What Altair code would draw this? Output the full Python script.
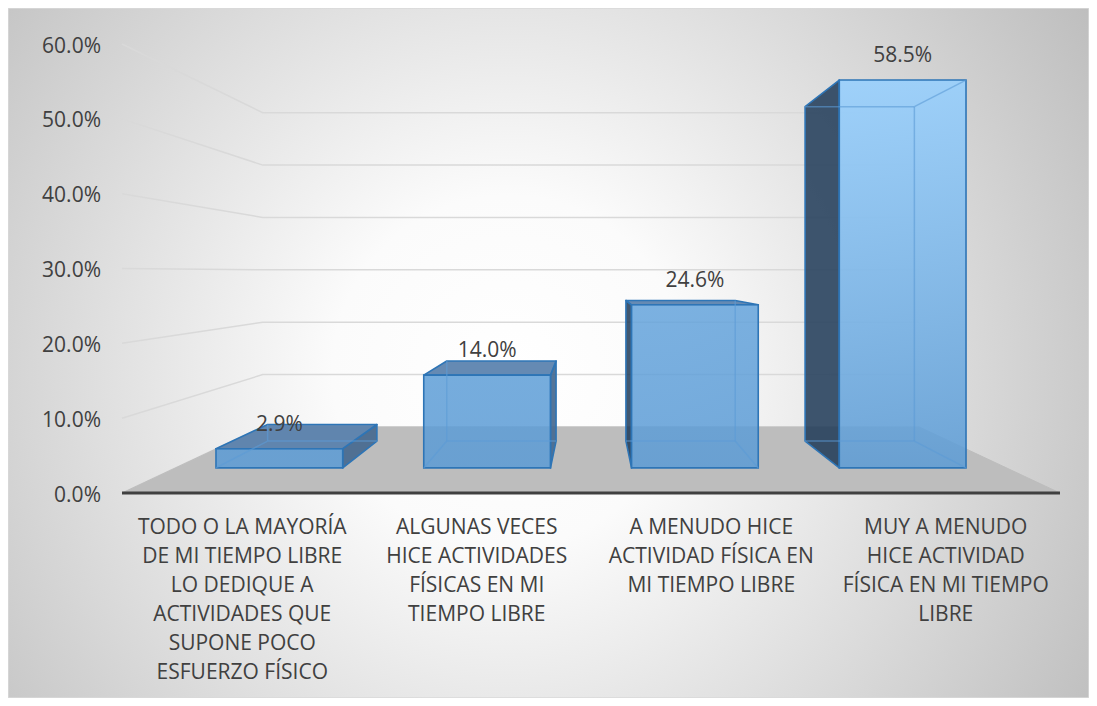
import altair as alt
import pandas as pd

# ---------------- data ----------------
categories = [
    "TODO O LA MAYORÍA\nDE MI TIEMPO LIBRE\nLO DEDIQUE A\nACTIVIDADES QUE\nSUPONE POCO\nESFUERZO FÍSICO",
    "ALGUNAS VECES\nHICE ACTIVIDADES\nFÍSICAS EN MI\nTIEMPO LIBRE",
    "A MENUDO HICE\nACTIVIDAD FÍSICA EN\nMI TIEMPO LIBRE",
    "MUY A MENUDO\nHICE ACTIVIDAD\nFÍSICA EN MI TIEMPO\nLIBRE",
]
values = [2.9, 14.0, 24.6, 58.5]
value_labels = ["2.9%", "14.0%", "24.6%", "58.5%"]
y_ticks = [0, 10, 20, 30, 40, 50, 60]
y_tick_labels = ["0.0%", "10.0%", "20.0%", "30.0%", "40.0%", "50.0%", "60.0%"]

# ---------------- layout / 3-D projection ----------------
W, H = 1081, 690
PX_U = 234.5      # pixels per category band at the front plane
PX_V = 7.483      # pixels per percentage point at the front plane
X0 = 114.0        # pixel of the category axis start
Y0 = 485.0        # pixel of the 0% line
U_MIN = -X0 / PX_U
U_MAX = U_MIN + W / PX_U
V_MAX = Y0 / PX_V
V_MIN = V_MAX - H / PX_V

N = len(values)
VP_U = N / 2.0    # vanishing point (category units)
VP_V = 29.4       # vanishing point (percent units)
S_FRONT = 0.886   # depth scale of the bars' front faces
S_BACK = 0.764    # depth scale of the bars' back faces
S_WALL = 0.70     # depth scale of the back wall
BAR_FRAC = 0.61

FONT = "Open Sans"
TEXT = "#404040"
BLUE = "#5B9BD5"
EDGE = "#2E75B6"
LIGHT = "#94CFFF"


def proj(u, v, s):
    return VP_U + (u - VP_U) * s, VP_V + (v - VP_V) * s


def mix(c1, c2, t):
    a = [int(c1[k:k + 2], 16) for k in (1, 3, 5)]
    b = [int(c2[k:k + 2], 16) for k in (1, 3, 5)]
    return "#" + "".join("%02x" % round(a[j] + (b[j] - a[j]) * t) for j in range(3))


def rows(pid, pts, **extra):
    return [dict(pid=pid, ord=k, x=p[0], y=p[1], **extra) for k, p in enumerate(pts)]


xs = alt.Scale(domain=[U_MIN, U_MAX], nice=False, zero=False)
ys = alt.Scale(domain=[V_MIN, V_MAX], nice=False, zero=False)
X = alt.X("x:Q", scale=xs, axis=None)
Y = alt.Y("y:Q", scale=ys, axis=None)

layers = []

# background
bg_df = pd.DataFrame({"x": [U_MIN], "x2": [U_MAX], "y": [V_MIN], "y2": [V_MAX]})
radial = alt.RadialGradient(
    gradient="radial",
    x1=0.4625, y1=0.5167, r1=0.0,
    x2=0.4625, y2=0.5167, r2=0.65,
    stops=[
        alt.GradientStop(color="#ffffff", offset=0.0),
        alt.GradientStop(color="#fbfbfb", offset=0.25),
        alt.GradientStop(color="#bcbcbc", offset=1.0),
    ],
)
layers.append(
    alt.Chart(bg_df).mark_rect(fill=radial, stroke="#d9d9d9", strokeWidth=1.5)
    .encode(x=alt.X("x:Q", scale=xs, axis=None), x2="x2:Q",
            y=alt.Y("y:Q", scale=ys, axis=None), y2="y2:Q")
)

# gridlines (left wall + back wall)
g = []
for t in y_ticks:
    g += rows("g%d" % t, [proj(0, t, 1.0), proj(0, t, S_WALL), proj(N, t, S_WALL)])
layers.append(
    alt.Chart(pd.DataFrame(g)).mark_line(stroke="#d9d9d9", strokeWidth=1.5)
    .encode(x=X, y=Y, detail="pid:N", order="ord:Q")
)

# floor
floor = rows("floor", [proj(0, 0, 1.0), proj(N, 0, 1.0), proj(N, 0, S_WALL), proj(0, 0, S_WALL)])
layers.append(
    alt.Chart(pd.DataFrame(floor))
    .mark_line(interpolate="linear-closed", fill="#bdbdbd", stroke="#bdbdbd", strokeWidth=1)
    .encode(x=X, y=Y, detail="pid:N", order="ord:Q")
)

# category axis line
axis_line = rows("axis", [proj(0, 0, 1.0), proj(N, 0, 1.0)])
layers.append(
    alt.Chart(pd.DataFrame(axis_line)).mark_line(stroke="#404040", strokeWidth=3)
    .encode(x=X, y=Y, detail="pid:N", order="ord:Q")
)

# bars
face_style = {
    "left": ("#1f3a57", 0.85),
    "right": ("#46698f", 0.92),
    "top": ("#5880ac", 0.92),
}
faces = {k: [] for k in face_style}
hidden = []
fronts = []
vmax = max(values)
for i, v in enumerate(values):
    ul = i + (1 - BAR_FRAC) / 2
    ur = i + 1 - (1 - BAR_FRAC) / 2

    def c(xi, yi, zi):
        return proj([ul, ur][xi], [0, v][yi], [S_FRONT, S_BACK][zi])

    visible = {"front"}
    if v < VP_V:
        visible.add("top")
    if ur < VP_U:
        visible.add("right")
    if ul > VP_U:
        visible.add("left")

    if "top" in visible:
        faces["top"] += rows("t%d" % i, [c(0, 1, 0), c(1, 1, 0), c(1, 1, 1), c(0, 1, 1)])
    if "right" in visible:
        faces["right"] += rows("r%d" % i, [c(1, 0, 0), c(1, 1, 0), c(1, 1, 1), c(1, 0, 1)])
    if "left" in visible:
        faces["left"] += rows("l%d" % i, [c(0, 0, 0), c(0, 1, 0), c(0, 1, 1), c(0, 0, 1)])

    # hidden edges (seen through the translucent faces)
    names = {0: ("left", "right"), 1: ("bottom", "top"), 2: ("front", "back")}
    corners = [(a, b, d) for a in (0, 1) for b in (0, 1) for d in (0, 1)]
    k = 0
    for p in corners:
        for q in corners:
            diff = [j for j in range(3) if p[j] != q[j]]
            if len(diff) != 1 or p > q:
                continue
            fixed = [j for j in range(3) if j != diff[0]]
            adj = {names[j][p[j]] for j in fixed}
            if adj & visible:
                continue
            hidden += rows("h%d_%d" % (i, k), [c(*p), c(*q)])
            k += 1

    x_a, y_a = proj(ul, 0, S_FRONT)
    x_b, y_b = proj(ur, v, S_FRONT)
    fronts.append((x_a, x_b, y_a, y_b, mix(BLUE, LIGHT, (v / vmax) ** 2)))

for kind in ("left", "right", "top"):
    if not faces[kind]:
        continue
    col, op = face_style[kind]
    layers.append(
        alt.Chart(pd.DataFrame(faces[kind]))
        .mark_line(interpolate="linear-closed", fill=col, fillOpacity=op,
                   stroke=EDGE, strokeWidth=1.6, strokeJoin="round")
        .encode(x=X, y=Y, detail="pid:N", order="ord:Q")
    )

for (x_a, x_b, y_a, y_b, top_col) in fronts:
    grad = alt.LinearGradient(
        gradient="linear", x1=0, y1=0, x2=0, y2=1,
        stops=[alt.GradientStop(color=top_col, offset=0.0),
               alt.GradientStop(color=BLUE, offset=1.0)],
    )
    df = pd.DataFrame({"x": [x_a], "x2": [x_b], "y": [y_a], "y2": [y_b]})
    layers.append(
        alt.Chart(df).mark_rect(fill=grad, fillOpacity=0.85, stroke=EDGE, strokeWidth=1.6)
        .encode(x=X, x2="x2:Q", y=Y, y2="y2:Q")
    )

layers.append(
    alt.Chart(pd.DataFrame(hidden)).mark_line(stroke=BLUE, strokeWidth=1.5, opacity=0.6)
    .encode(x=X, y=Y, detail="pid:N", order="ord:Q")
)

# data labels
lab = []
for i, v in enumerate(values):
    px, py = proj(i + 0.5, v, S_FRONT)
    lab.append({"x": px, "y": py, "text": value_labels[i]})
layers.append(
    alt.Chart(pd.DataFrame(lab))
    .mark_text(font=FONT, fontSize=21, color=TEXT, baseline="middle", dy=-24)
    .encode(x=X, y=Y, text="text:N")
)

# value axis labels
ylab = pd.DataFrame({"x": [0.0] * len(y_ticks), "y": y_ticks, "text": y_tick_labels})
layers.append(
    alt.Chart(ylab)
    .mark_text(font=FONT, fontSize=21, color=TEXT, align="right", baseline="middle", dx=-21, dy=2.5)
    .encode(x=X, y=Y, text="text:N")
)

# category labels
cat = pd.DataFrame({"x": [i + 0.5 for i in range(N)], "y": [0.0] * N, "text": categories})
layers.append(
    alt.Chart(cat)
    .mark_text(font=FONT, fontSize=21, color=TEXT, align="center", baseline="alphabetic",
               lineBreak="\n", lineHeight=29, dy=40.5, dx=3)
    .encode(x=X, y=Y, text="text:N")
)

chart = (
    alt.layer(*layers)
    .properties(width=W, height=H, padding=0, background="white",
                autosize=alt.AutoSizeParams(type="none"))
    .configure_view(stroke=None)
)

chart.save("out.html", embed_options={"renderer": "svg", "actions": False})
